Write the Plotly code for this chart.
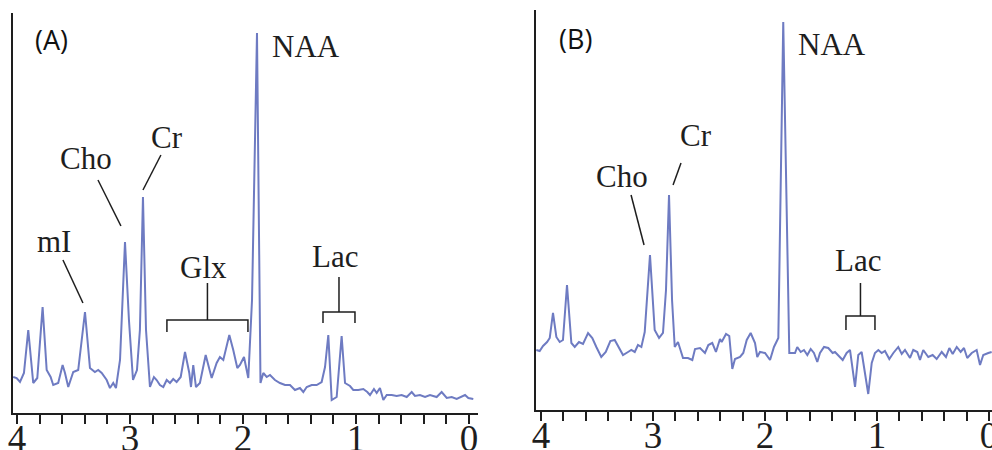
import plotly.graph_objects as go

# ---- Spectrum (A): chemical shift (ppm) and signal intensity (a.u.) ----
ppm_a = [4.033, 4.003, 3.973, 3.938, 3.900, 3.856, 3.820, 3.773, 3.737, 3.702,
         3.679, 3.635, 3.596, 3.575, 3.546, 3.502, 3.458, 3.398, 3.354, 3.310,
         3.281, 3.250, 3.206, 3.177, 3.148, 3.124, 3.088, 3.044, 3.009, 2.973,
         2.938, 2.912, 2.885, 2.858, 2.823, 2.788, 2.764, 2.735, 2.705, 2.675,
         2.646, 2.617, 2.587, 2.551, 2.513, 2.475, 2.460, 2.440, 2.416, 2.381,
         2.330, 2.277, 2.233, 2.204, 2.174, 2.121, 2.086, 2.050, 2.027, 1.991,
         1.953, 1.920, 1.876, 1.854, 1.845, 1.820, 1.790, 1.761, 1.717, 1.673,
         1.628, 1.584, 1.540, 1.496, 1.466, 1.436, 1.392, 1.348, 1.304, 1.274,
         1.245, 1.215, 1.171, 1.127, 1.097, 1.053, 1.024, 0.980, 0.935, 0.900,
         0.876, 0.841, 0.817, 0.788, 0.758, 0.728, 0.684, 0.640, 0.596, 0.551,
         0.507, 0.478, 0.434, 0.389, 0.345, 0.286, 0.242, 0.197, 0.153, 0.109,
         0.065, 0.035, 0.006, -0.038]
int_a = [36, 35, 31, 40, 83, 30, 35, 106, 43, 36,
         28, 30, 48, 40, 26, 41, 43, 101, 45, 41,
         43, 40, 33, 25, 30, 25, 53, 171, 93, 33,
         43, 83, 216, 83, 26, 36, 33, 28, 26, 33,
         30, 34, 31, 36, 61, 40, 26, 48, 26, 30,
         58, 35, 50, 56, 53, 78, 63, 45, 48, 56,
         35, 113, 380, 113, 30, 40, 36, 38, 33, 30,
         28, 28, 23, 25, 21, 26, 28, 28, 31, 46,
         78, 13, 16, 77, 30, 27, 23, 23, 24, 21,
         18, 24, 20, 25, 13, 18, 18, 17, 18, 16,
         21, 17, 18, 16, 18, 16, 21, 15, 16, 14,
         16, 18, 15, 14]

# ---- Spectrum (B) ----
ppm_b = [4.042, 4.012, 3.982, 3.946, 3.922, 3.893, 3.863, 3.833, 3.804, 3.768,
         3.729, 3.699, 3.661, 3.625, 3.580, 3.542, 3.506, 3.462, 3.422, 3.381,
         3.342, 3.304, 3.268, 3.223, 3.194, 3.163, 3.134, 3.104, 3.074, 3.027,
         2.985, 2.946, 2.911, 2.884, 2.857, 2.830, 2.806, 2.777, 2.732, 2.688,
         2.649, 2.625, 2.580, 2.536, 2.506, 2.471, 2.438, 2.402, 2.387, 2.348,
         2.319, 2.292, 2.268, 2.223, 2.194, 2.163, 2.128, 2.089, 2.069, 2.045,
         2.000, 1.955, 1.920, 1.881, 1.862, 1.837, 1.808, 1.783, 1.732, 1.712,
         1.681, 1.652, 1.622, 1.592, 1.563, 1.533, 1.509, 1.473, 1.435, 1.396,
         1.375, 1.346, 1.306, 1.271, 1.241, 1.196, 1.167, 1.137, 1.078, 1.047,
         1.018, 0.988, 0.958, 0.929, 0.890, 0.854, 0.810, 0.779, 0.750, 0.705,
         0.676, 0.640, 0.616, 0.587, 0.542, 0.503, 0.467, 0.422, 0.384, 0.354,
         0.324, 0.288, 0.253, 0.223, 0.194, 0.154, 0.110, 0.080, 0.051, 0.006,
         -0.024]
int_b = [60, 59, 64, 68, 72, 97, 73, 68, 70, 125,
         67, 63, 68, 66, 77, 72, 63, 53, 58, 69,
         70, 63, 55, 58, 60, 58, 65, 63, 78, 155,
         80, 72, 77, 120, 215, 110, 63, 68, 52, 52,
         50, 61, 62, 57, 65, 67, 58, 71, 68, 76,
         74, 41, 51, 53, 57, 70, 77, 67, 53, 58,
         57, 50, 63, 72, 210, 388, 210, 57, 57, 63,
         58, 60, 55, 61, 57, 48, 57, 63, 62, 57,
         58, 55, 50, 57, 60, 23, 55, 58, 16, 47,
         57, 60, 57, 59, 51, 57, 63, 56, 60, 52,
         60, 58, 50, 60, 53, 55, 51, 58, 53, 62,
         56, 63, 58, 62, 52, 57, 60, 45, 55, 57,
         58]

# ---- Axis ticks ----
tick_vals = [4.0, 3.8, 3.6, 3.4, 3.2, 3.0, 2.8, 2.6, 2.4, 2.2, 2.0,
             1.8, 1.6, 1.4, 1.2, 1.0, 0.8, 0.6, 0.4, 0.2, 0.0]
tick_text = ["4", "", "", "", "", "3", "", "", "", "", "2",
             "", "", "", "", "1", "", "", "", "", "0"]

# ---- Peak labels: (text, ppm, intensity) ----
labels_a = [("NAA", 1.44, 367), ("Cr", 2.673, 276), ("Cho", 3.389, 255),
            ("mI", 3.673, 172), ("Glx", 2.345, 146), ("Lac", 1.186, 157)]
labels_b = [("NAA", 1.40, 365), ("Cr", 2.616, 274), ("Cho", 3.277, 233),
            ("Lac", 1.170, 149)]

# leader lines: (x0, y0, x1, y1) in ppm / intensity
leaders_a = [(2.726, 258, 2.885, 223), (3.283, 233, 3.080, 187),
             (3.593, 153, 3.416, 110)]
leaders_b = [(2.750, 247, 2.821, 225), (3.196, 215, 3.080, 165)]

# brackets: (left ppm, right ppm, bar y, tip y, stem top y)
brackets_a = [(2.673, 1.956, 93, 81, 130), (1.292, 1.009, 101, 90, 136)]
brackets_b = [(1.277, 1.018, 94, 80, 127)]

LINE_COLOR = "#6e7bc2"
INK = "#1e1e1e"
SERIF = "Liberation Serif, Times New Roman, serif"

fig = go.Figure()
fig.add_trace(go.Scatter(x=ppm_a, y=int_a, mode="lines", xaxis="x", yaxis="y",
                         line=dict(color=LINE_COLOR, width=2), showlegend=False))
fig.add_trace(go.Scatter(x=ppm_b, y=int_b, mode="lines", xaxis="x2", yaxis="y2",
                         line=dict(color=LINE_COLOR, width=2), showlegend=False))

xaxis_style = dict(
    tickmode="array", tickvals=tick_vals, ticktext=tick_text,
    ticks="outside", ticklen=9, tickwidth=1.5, tickcolor=INK,
    showline=True, linecolor=INK, linewidth=2,
    showgrid=False, zeroline=False, automargin=False,
    ticklabeloverflow="allow", ticklabelstandoff=-17,
    tickfont=dict(family=SERIF, size=37, color=INK),
)
yaxis_style = dict(showline=True, linecolor=INK, linewidth=2, showgrid=False,
                   zeroline=False, showticklabels=False, ticks="",
                   automargin=False, range=[0, 400])

fig.update_layout(
    width=992, height=450,
    margin=dict(l=0, r=0, t=0, b=0),
    paper_bgcolor="white", plot_bgcolor="white",
    xaxis=dict(domain=[0.0131, 0.4819], range=[4.035, -0.08], anchor="y", **xaxis_style),
    yaxis=dict(domain=[0.0822, 0.9711], anchor="x", **yaxis_style),
    xaxis2=dict(domain=[0.5403, 1.0], range=[4.045, -0.027], anchor="y2", **xaxis_style),
    yaxis2=dict(domain=[0.0889, 0.9778], anchor="x2", **yaxis_style),
)

annotations = []
shapes = []


def add_panel(labels, leaders, brackets, xr, yr, panel_tag, tag_pos):
    for text, x, y in labels:
        annotations.append(dict(x=x, y=y, xref=xr, yref=yr, text=text, showarrow=False,
                                font=dict(family=SERIF, size=31, color=INK),
                                xanchor="center", yanchor="middle"))
    for x0, y0, x1, y1 in leaders:
        shapes.append(dict(type="line", xref=xr, yref=yr, x0=x0, y0=y0, x1=x1, y1=y1,
                           line=dict(color=INK, width=1.5)))
    for left, right, bar, tip, stem in brackets:
        mid = (left + right) / 2
        path = (f"M {left} {tip} L {left} {bar} L {right} {bar} L {right} {tip} "
                f"M {mid} {bar} L {mid} {stem}")
        shapes.append(dict(type="path", xref=xr, yref=yr, path=path,
                           line=dict(color=INK, width=1.5)))
    annotations.append(dict(x=tag_pos[0], y=tag_pos[1], xref=xr, yref=yr, text=panel_tag,
                            showarrow=False, xanchor="center", yanchor="middle",
                            font=dict(family="Open Sans, Arial, sans-serif", size=27,
                                      color="#111")))


add_panel(labels_a, leaders_a, brackets_a, "x", "y", "(A)", (3.690, 374))
add_panel(labels_b, leaders_b, brackets_b, "x2", "y2", "(B)", (3.696, 371))

fig.update_layout(annotations=annotations, shapes=shapes)
fig.write_html("out.html")
